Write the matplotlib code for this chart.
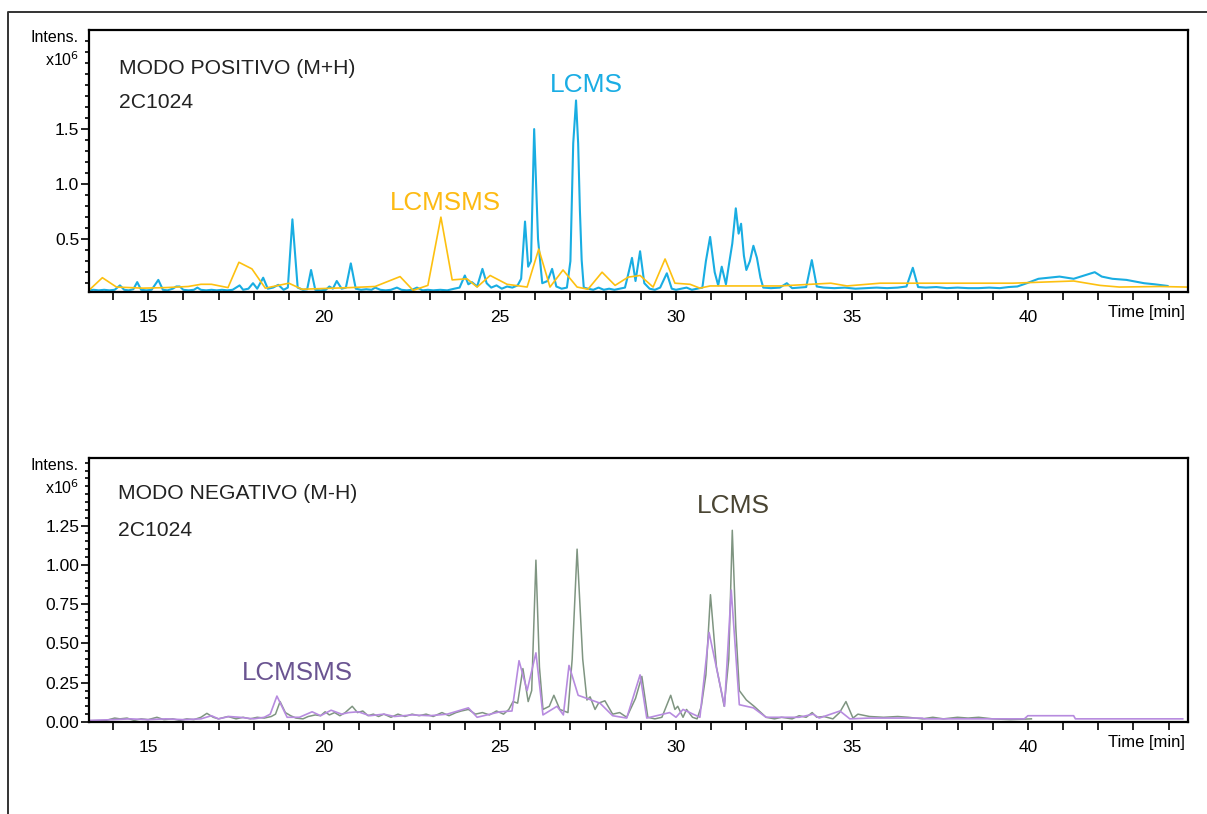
import matplotlib
matplotlib.use("Agg")
import matplotlib.pyplot as plt
from matplotlib.ticker import MultipleLocator, FixedLocator, FormatStrFormatter
from matplotlib.lines import Line2D

plt.rcParams['font.family'] = ['Liberation Sans', 'DejaVu Sans']
NARROW = ['Liberation Sans Narrow', 'Liberation Sans', 'DejaVu Sans']

# --- positive mode, intensity x10^6 ---
pos_lcms_t = [13.32, 13.45, 13.6, 13.75, 13.9, 14.05, 14.2, 14.32, 14.45, 14.58, 14.69, 14.8, 14.95,
              15.1, 15.29, 15.42, 15.55, 15.7, 15.8, 15.9, 16.0, 16.15, 16.3, 16.4, 16.5, 16.65, 16.8,
              16.95, 17.1, 17.25, 17.4, 17.6, 17.7, 17.85, 17.98, 18.1, 18.27, 18.4, 18.55, 18.7,
              18.85, 18.97, 19.1, 19.25, 19.4, 19.52, 19.63, 19.75, 19.9, 20.05, 20.15, 20.25, 20.36,
              20.5, 20.62, 20.76, 20.9, 21.05, 21.2, 21.35, 21.45, 21.6, 21.75, 21.9, 22.07, 22.2,
              22.35, 22.5, 22.64, 22.8, 22.95, 23.1, 23.3, 23.5, 23.7, 23.85, 24.0, 24.1, 24.2, 24.35,
              24.5, 24.62, 24.75, 24.9, 25.05, 25.2, 25.35, 25.5, 25.6, 25.71, 25.8, 25.88, 25.97,
              26.08, 26.2, 26.35, 26.48, 26.6, 26.75, 26.9, 27.0, 27.08, 27.16, 27.22, 27.27, 27.32,
              27.38, 27.5, 27.65, 27.8, 27.95, 28.1, 28.25, 28.4, 28.55, 28.62, 28.75, 28.85, 28.98,
              29.1, 29.25, 29.4, 29.55, 29.74, 29.88, 30.0, 30.15, 30.3, 30.45, 30.6, 30.75, 30.85,
              30.97, 31.1, 31.2, 31.3, 31.42, 31.52, 31.6, 31.7, 31.78, 31.85, 31.93, 32.0, 32.1,
              32.2, 32.3, 32.4, 32.48, 32.7, 32.95, 33.15, 33.3, 33.5, 33.7, 33.86, 34.0, 34.2, 34.5,
              34.8, 35.1, 35.4, 35.7, 36.0, 36.3, 36.55, 36.73, 36.88, 37.1, 37.4, 37.7, 38.0, 38.3,
              38.6, 38.9, 39.2, 39.45, 39.7, 39.97, 40.3, 40.6, 40.9, 41.1, 41.3, 41.6, 41.9, 42.1,
              42.4, 42.8, 43.3, 43.6, 43.97]
pos_lcms_v = [0.035, 0.04, 0.035, 0.04, 0.035, 0.04, 0.08, 0.04, 0.035, 0.045, 0.11, 0.04, 0.035,
              0.04, 0.13, 0.04, 0.035, 0.05, 0.07, 0.07, 0.04, 0.035, 0.04, 0.06, 0.04, 0.035, 0.04,
              0.035, 0.04, 0.035, 0.04, 0.08, 0.04, 0.05, 0.1, 0.05, 0.15, 0.05, 0.06, 0.085,
              0.04, 0.06, 0.68, 0.06, 0.04, 0.045, 0.22, 0.04, 0.035, 0.04, 0.07, 0.05, 0.12,
              0.05, 0.06, 0.28, 0.05, 0.04, 0.045, 0.04, 0.06, 0.04, 0.035, 0.04, 0.06, 0.04,
              0.035, 0.04, 0.06, 0.035, 0.04, 0.035, 0.04, 0.035, 0.05, 0.06, 0.17, 0.09, 0.11, 0.07,
              0.23, 0.1, 0.06, 0.08, 0.05, 0.07, 0.06, 0.08, 0.14, 0.66, 0.25, 0.3, 1.5,
              0.5, 0.1, 0.12, 0.23, 0.07, 0.05, 0.06, 0.3, 1.37, 1.76, 1.37, 0.76, 0.31,
              0.06, 0.05, 0.04, 0.06, 0.04, 0.05, 0.04, 0.05, 0.06, 0.15, 0.33, 0.12, 0.39,
              0.1, 0.05, 0.04, 0.06, 0.19, 0.05, 0.04, 0.05, 0.06, 0.04, 0.05, 0.06, 0.3,
              0.52, 0.2, 0.08, 0.25, 0.09, 0.3, 0.46, 0.78, 0.55, 0.64, 0.35, 0.22, 0.3,
              0.44, 0.33, 0.15, 0.06, 0.055, 0.06, 0.1, 0.055, 0.06, 0.065, 0.31, 0.07, 0.06, 0.055,
              0.06, 0.05, 0.055, 0.06, 0.055, 0.06, 0.07, 0.24, 0.065, 0.06, 0.065, 0.055, 0.06, 0.055,
              0.055, 0.06, 0.055, 0.065, 0.07, 0.1, 0.14, 0.15, 0.16, 0.15, 0.14, 0.17, 0.2, 0.16,
              0.14, 0.13, 0.1, 0.09, 0.075]

pos_msms_t = [13.32, 13.7, 14.1, 14.86, 15.5, 16.14, 16.5, 16.8, 17.27, 17.58, 17.95, 18.33, 19.0,
              19.37, 20.74, 21.45, 22.16, 22.53, 22.95, 23.32, 23.64, 24.06, 24.35, 24.72, 25.2, 25.77,
              26.1, 26.42, 26.79, 27.19, 27.5, 27.9, 28.27, 28.64, 28.98, 29.35, 29.69, 29.97, 30.4,
              30.68, 30.97, 32.95, 34.4, 34.86, 35.8, 39.57, 41.3, 42.05, 42.6, 43.75, 44.5]
pos_msms_v = [0.036, 0.15, 0.065, 0.055, 0.06, 0.07, 0.09, 0.09, 0.06, 0.29, 0.23, 0.055, 0.1,
              0.045, 0.06, 0.07, 0.16, 0.035, 0.08, 0.7, 0.13, 0.14, 0.065, 0.17, 0.09, 0.065,
              0.41, 0.065, 0.22, 0.065, 0.045, 0.2, 0.08, 0.155, 0.17, 0.065, 0.32, 0.1, 0.09,
              0.055, 0.075, 0.075, 0.1, 0.075, 0.1, 0.1, 0.12, 0.08, 0.065, 0.07, 0.065]

# --- negative mode, intensity x10^6 ---
neg_lcms_t = [13.32, 13.8, 14.05, 14.2, 14.4, 14.6, 14.8, 15.0, 15.25, 15.45, 15.7, 15.9, 16.1, 16.3,
              16.5, 16.67, 16.85, 17.0, 17.27, 17.5, 17.7, 17.9, 18.1, 18.3, 18.5, 18.62, 18.75, 18.9,
              19.05, 19.2, 19.4, 19.55, 19.75, 19.9, 20.03, 20.15, 20.3, 20.45, 20.6, 20.8, 20.95,
              21.1, 21.25, 21.4, 21.55, 21.7, 21.9, 22.1, 22.3, 22.5, 22.7, 22.9, 23.1, 23.35, 23.55,
              23.75, 23.9, 24.1, 24.3, 24.5, 24.7, 24.9, 25.1, 25.25, 25.37, 25.5, 25.65, 25.8, 25.9,
              26.02, 26.12, 26.22, 26.4, 26.53, 26.7, 26.93, 27.05, 27.19, 27.35, 27.47, 27.56, 27.7,
              27.8, 27.98, 28.2, 28.4, 28.6, 28.85, 29.03, 29.2, 29.4, 29.6, 29.85, 29.97, 30.05,
              30.2, 30.3, 30.47, 30.6, 30.72, 30.85, 30.98, 31.15, 31.37, 31.5, 31.6, 31.7, 31.8,
              32.0, 32.22, 32.56, 32.8, 33.0, 33.3, 33.5, 33.7, 33.87, 34.0, 34.2, 34.46, 34.65,
              34.83, 35.03, 35.17, 35.5, 35.9, 36.3, 36.6, 37.0, 37.3, 37.6, 38.0, 38.3, 38.6, 39.0,
              39.5, 40.1]
neg_lcms_v = [0.008, 0.01, 0.025, 0.02, 0.025, 0.01, 0.02, 0.015, 0.03, 0.015, 0.02, 0.01, 0.02, 0.015,
              0.03, 0.055, 0.03, 0.02, 0.035, 0.02, 0.03, 0.02, 0.03, 0.025, 0.035, 0.05, 0.13, 0.06,
              0.04, 0.025, 0.02, 0.035, 0.045, 0.04, 0.065, 0.045, 0.06, 0.04, 0.06, 0.1, 0.06,
              0.07, 0.04, 0.05, 0.035, 0.05, 0.03, 0.05, 0.035, 0.05, 0.04, 0.05, 0.035, 0.06, 0.04,
              0.06, 0.07, 0.08, 0.05, 0.06, 0.045, 0.07, 0.05, 0.08, 0.13, 0.12, 0.34, 0.13, 0.2,
              1.03, 0.35, 0.08, 0.1, 0.17, 0.08, 0.06, 0.4, 1.1, 0.4, 0.14, 0.16, 0.08,
              0.12, 0.135, 0.05, 0.06, 0.03, 0.15, 0.29, 0.03, 0.02, 0.03, 0.17, 0.08, 0.1,
              0.03, 0.08, 0.03, 0.02, 0.1, 0.3, 0.81, 0.35, 0.1, 0.4, 1.22, 0.6, 0.2,
              0.14, 0.1, 0.03, 0.02, 0.03, 0.02, 0.04, 0.03, 0.06, 0.03, 0.035, 0.02, 0.06,
              0.13, 0.025, 0.05, 0.035, 0.03, 0.035, 0.03, 0.02, 0.03, 0.02, 0.03, 0.025, 0.03, 0.02,
              0.015, 0.02]

neg_msms_t = [13.32, 14.0, 14.5, 15.0, 15.5, 16.0, 16.5, 16.8, 17.0, 17.3, 17.6, 18.0, 18.3, 18.47,
              18.66, 18.95, 19.3, 19.66, 19.9, 20.2, 20.5, 20.7, 20.97, 21.3, 21.7, 22.0, 22.5,
              23.0, 23.5, 24.1, 24.35, 25.0, 25.34, 25.54, 25.77, 26.02, 26.22, 26.62, 26.8, 26.96,
              27.22, 27.84, 28.2, 28.6, 28.98, 29.17, 29.82, 30.0, 30.2, 30.68, 30.94, 31.38, 31.57,
              31.8, 32.2, 32.56, 33.5, 33.9, 34.07, 34.66, 34.94, 35.5, 37.0, 37.05, 39.9, 40.0,
              41.3, 41.35, 44.4]
neg_msms_v = [0.01, 0.015, 0.02, 0.015, 0.02, 0.015, 0.02, 0.04, 0.02, 0.035, 0.03, 0.02, 0.03, 0.05,
              0.165, 0.03, 0.03, 0.065, 0.04, 0.075, 0.05, 0.06, 0.065, 0.04, 0.05, 0.035, 0.045,
              0.04, 0.05, 0.09, 0.03, 0.065, 0.07, 0.39, 0.2, 0.44, 0.045, 0.1, 0.045, 0.36,
              0.17, 0.12, 0.04, 0.025, 0.3, 0.025, 0.06, 0.03, 0.08, 0.03, 0.57, 0.1, 0.84,
              0.11, 0.09, 0.03, 0.03, 0.05, 0.025, 0.07, 0.02, 0.025, 0.025, 0.02, 0.02, 0.04,
              0.04, 0.02, 0.02]

W, H = 1207, 814
fig = plt.figure(figsize=(W / 100, H / 100), dpi=100)


def fx(px):
    return px / W


def fy(py):
    return 1 - py / H


# outer frame (cut by the image edge on the right and bottom)
fig.add_artist(Line2D([fx(8), fx(8), 1.0], [0.0, fy(12), fy(12)], color='#333333', lw=1.4,
                      transform=fig.transFigure))

ax1 = fig.add_axes([fx(89), fy(292), fx(1188) - fx(89), fy(30) - fy(292)])
ax2 = fig.add_axes([fx(89), fy(722), fx(1188) - fx(89), fy(458) - fy(722)])

ax1.plot(pos_lcms_t, pos_lcms_v, color='#19ADE2', lw=1.5)
ax1.plot(pos_msms_t, pos_msms_v, color='#FDC010', lw=1.2)
ax2.plot(neg_lcms_t, neg_lcms_v, color='#7F9581', lw=1.1)
ax2.plot(neg_msms_t, neg_msms_v, color='#B78BDF', lw=1.2)

ax1.set_ylim(0.02, 2.4)
ax2.set_ylim(0.0, 1.68)
ax1.yaxis.set_major_locator(FixedLocator([0.5, 1.0, 1.5]))
ax1.yaxis.set_minor_locator(FixedLocator([0.1 * i for i in range(1, 24)]))
ax1.yaxis.set_major_formatter(FormatStrFormatter('%.1f'))
ax2.yaxis.set_major_locator(FixedLocator([0.0, 0.25, 0.5, 0.75, 1.0, 1.25]))
ax2.yaxis.set_minor_locator(FixedLocator([0.05 * i for i in range(0, 34)]))
ax2.yaxis.set_major_formatter(FormatStrFormatter('%.2f'))

for ax in (ax1, ax2):
    ax.set_xlim(13.32, 44.55)
    ax.set_xticks([15, 20, 25, 30, 35, 40])
    ax.xaxis.set_minor_locator(MultipleLocator(1))
    ax.tick_params(axis='x', which='both', direction='out', length=6, width=1.2, pad=7)
    ax.tick_params(axis='y', which='major', direction='out', length=6, width=1.2, pad=1)
    ax.tick_params(axis='y', which='minor', direction='out', length=3, width=1.2)
    for s in ax.spines.values():
        s.set_linewidth(1.6)
    for lab in ax.get_xticklabels() + ax.get_yticklabels():
        lab.set_family(NARROW)
        lab.set_fontsize(12.5)

# axis captions
for top, bot in ((30, 292), (458, 722)):
    fig.text(fx(79), fy(top + 8), 'Intens.', ha='right', va='center', family=NARROW, fontsize=11.5)
    fig.text(fx(79), fy(top + 30), r'x10$^{6}$', ha='right', va='center', family=NARROW, fontsize=11.5)
    fig.text(fx(1185), fy(bot + 21), 'Time [min]', ha='right', va='center', family=NARROW, fontsize=12)

# panel texts
fig.text(fx(119), fy(68), 'MODO POSITIVO (M+H)', ha='left', va='center', fontsize=15.2, color='#222222')
fig.text(fx(119), fy(103), '2C1024', ha='left', va='center', fontsize=15.2, color='#222222')
fig.text(fx(586), fy(85), 'LCMS', ha='center', va='center', fontsize=19, color='#1AADE4')
fig.text(fx(445), fy(203), 'LCMSMS', ha='center', va='center', fontsize=18.7, color='#FDBA12')

fig.text(fx(118), fy(493), 'MODO NEGATIVO (M-H)', ha='left', va='center', fontsize=15.2, color='#222222')
fig.text(fx(118), fy(530), '2C1024', ha='left', va='center', fontsize=15.2, color='#222222')
fig.text(fx(733), fy(506), 'LCMS', ha='center', va='center', fontsize=19, color='#4A4533')
fig.text(fx(297), fy(673), 'LCMSMS', ha='center', va='center', fontsize=18.7, color='#6A5491')

fig.savefig('out.png', dpi=100)
